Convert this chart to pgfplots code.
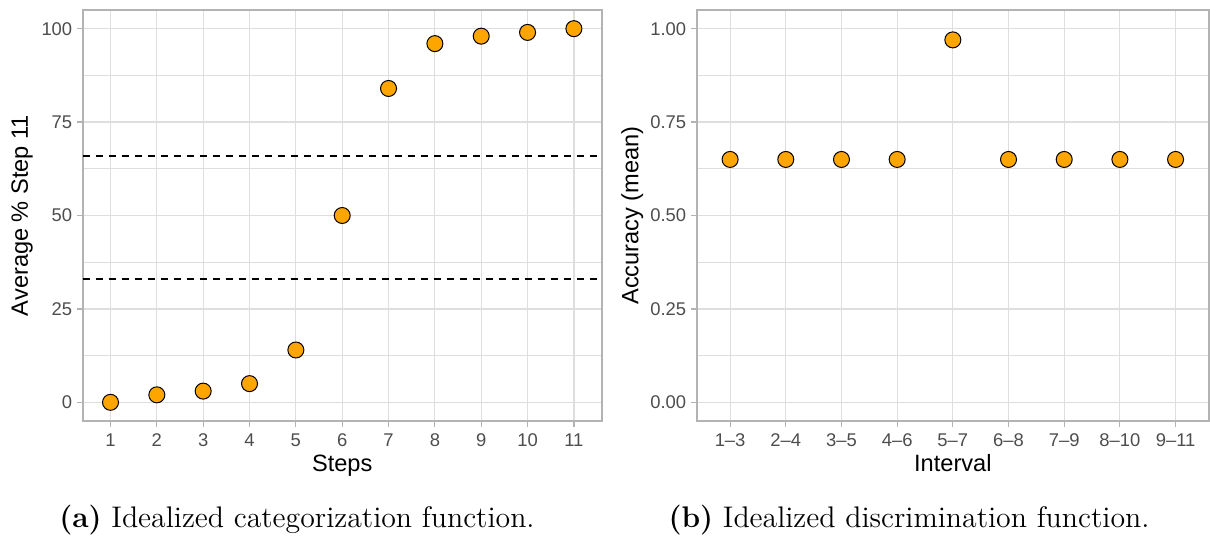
\documentclass[border=0pt]{standalone}
\usepackage{fontspec}
\usepackage{pgfplots}
\pgfplotsset{compat=1.18}
\newfontfamily\axfont{Liberation Sans}
\definecolor{gridc}{HTML}{DEDEDE}
\definecolor{framec}{HTML}{B3B3B3}
\definecolor{ticklab}{HTML}{4D4D4D}
\definecolor{ptfill}{HTML}{FFA500}

\pgfplotsset{
  gg/.style={
    scale only axis,
    axis line style={framec, line width=1pt},
    grid=both,
    major grid style={gridc, line width=0.6pt},
    minor grid style={gridc, line width=0.35pt},
    tick align=outside,
    tick pos=left,
    major tick length=2.75pt,
    minor tick length=0pt,
    tick style={framec, line width=0.6pt},
    tick label style={font=\axfont\fontsize{9.2}{11}\selectfont, text=ticklab, inner sep=0pt},
    /pgf/number format/assume math mode=true,
    xticklabel style={anchor=north, yshift=-3.6pt},
    yticklabel style={anchor=east, xshift=-2.3pt},
    label style={font=\axfont\fontsize{11.8}{13}\selectfont, text=black},
    xlabel style={at={(axis description cs:0.5,0)}, anchor=base, yshift=-25.3pt},
    pts/.style={only marks, mark=*, mark size=4pt, mark options={fill=ptfill, draw=black, line width=0.5pt}},
  }
}

\begin{document}
\begin{tikzpicture}
\useasboundingbox (0pt,0pt) rectangle (605pt,268pt);

\begin{axis}[gg,
  at={(41.35pt,57.5pt)}, anchor=south west,
  width=259.5pt, height=205.5pt,
  xmin=0.4, xmax=11.6, ymin=-5, ymax=105,
  xtick={1,2,3,4,5,6,7,8,9,10,11},
  ytick={0,25,50,75,100},
  minor ytick={12.5,37.5,62.5,87.5},
  xlabel={Steps},
  ylabel={Average \% Step 11},
  ylabel style={at={(axis description cs:-0.117,0.5)}, anchor=center},
]
\addplot[black, line width=0.8pt, dash pattern=on 3.5pt off 3pt] coordinates {(0.4,33) (11.6,33)};
\addplot[black, line width=0.8pt, dash pattern=on 3.5pt off 3pt] coordinates {(0.4,66) (11.6,66)};
\addplot[pts] coordinates {
(1,0) (2,2) (3,3) (4,5) (5,14) (6,50) (7,84) (8,96) (9,98) (10,99) (11,100)
};
\end{axis}

\begin{axis}[gg,
  at={(348.35pt,57.5pt)}, anchor=south west,
  width=256.15pt, height=205.5pt,
  xmin=0.4, xmax=9.6, ymin=-0.05, ymax=1.05,
  xtick={1,2,3,4,5,6,7,8,9},
  xticklabels={1–3,2–4,3–5,4–6,5–7,6–8,7–9,8–10,9–11},
  ytick={0,0.25,0.5,0.75,1},
  minor ytick={0.125,0.375,0.625,0.875},
  yticklabel style={/pgf/number format/.cd, fixed, fixed zerofill, precision=2},
  xlabel={Interval},
  ylabel={Accuracy (mean)},
  ylabel style={at={(axis description cs:-0.126,0.5)}, anchor=center},
]
\addplot[pts] coordinates {
(1,0.65) (2,0.65) (3,0.65) (4,0.65) (5,0.97) (6,0.65) (7,0.65) (8,0.65) (9,0.65)
};
\end{axis}

\node[anchor=base, font=\fontsize{14.9}{17}\selectfont] at (148.5pt,4.3pt) {\textbf{(a)} Idealized categorization function.};
\node[anchor=base, font=\fontsize{14.9}{17}\selectfont] at (454.5pt,4.3pt) {\textbf{(b)} Idealized discrimination function.};
\end{tikzpicture}
\end{document}
